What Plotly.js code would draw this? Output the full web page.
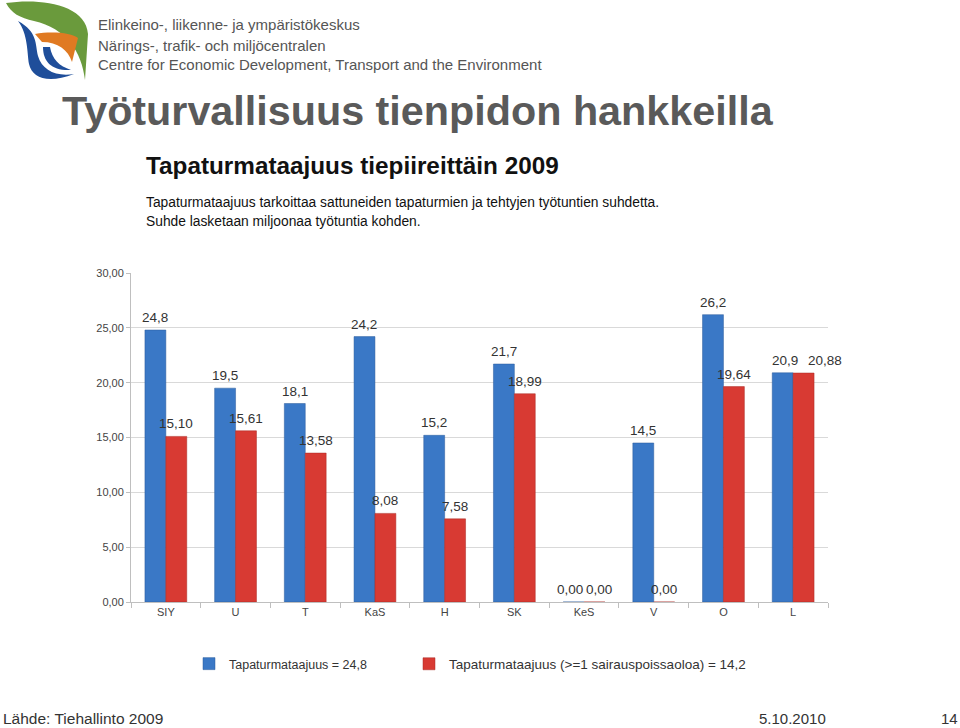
<!DOCTYPE html>
<html>
<head>
<meta charset="utf-8">
<script src="https://cdn.plot.ly/plotly-3.0.1.min.js"></script>
<style>html,body{margin:0;padding:0;background:#fff;}#chart{width:960px;height:728px;}</style>
</head>
<body>
<div id="chart"></div>
<script>
const categories = ["SIY","U","T","KaS","H","SK","KeS","V","O","L"];
const seriesAll = [24.8,19.5,18.1,24.2,15.2,21.7,0,14.5,26.2,20.9];
const seriesSick = [15.10,15.61,13.58,8.08,7.58,18.99,0,0,19.64,20.88];
const nameAll = "Tapaturmataajuus = 24,8";
const nameSick = "Tapaturmataajuus (>=1 sairauspoissaoloa) = 14,2";
const yTicks = [0,5,10,15,20,25,30];

const fmt = (v,d) => v.toFixed(d).replace('.', ',');

const logoSvg = '<svg xmlns="http://www.w3.org/2000/svg" width="90" height="85" viewBox="0 0 90 85">' +
 '<path d="M4,3 C38,-2 84,4 86,34 L83,80 C80,52 64,28 32,21 C18,18 9,13 4,3 Z" fill="#6a9a3c"/>' +
 '<path d="M16,21 C26,34 25,52 27,64 C30,78 46,84 72,74 C54,77 40,70 36,56 C33,44 36,32 16,21 Z" fill="#1f4e9a"/>' +
 '<path d="M33,34 C50,31 70,33 76,38 L70,62 C66,50 56,42 40,42 Z" fill="#e07a22"/>' +
 '<path d="M41,47 C41,62 50,71 69,70 C57,66 50,59 48,47 Z" fill="#1f4e9a"/>' +
 '</svg>';

const L = 131, R = 828, T = 273, B = 602;
const px = x => (x - L) / (R - L);
const py = y => (B - y) / (B - T);

const traces = [
  {type:'bar', name:nameAll, x:categories, y:seriesAll, legend:'legend',
   marker:{color:'#3a78c6', line:{color:'#2a5a9a', width:0.5}}},
  {type:'bar', name:nameSick, x:categories, y:seriesSick, legend:'legend2',
   marker:{color:'#d83a33', line:{color:'#a82a25', width:0.5}}}
];

// data labels, placed through the data axes above each bar
const labelFont = {family:'Liberation Sans, Arial, sans-serif', size:13.5, color:'#333'};
const groupShift = 10.5; // half of one bar width in px (bargap 0.4, two bars)
const extraAll  = {KeS:-4, L:2};
const extraSick = {KeS:4, L:21};
const annotations = [];
categories.forEach((c,i) => {
  annotations.push({x:c, y:seriesAll[i], xref:'x', yref:'y', text: seriesAll[i] === 0 ? fmt(seriesAll[i],2) : fmt(seriesAll[i],1),
    xshift:-groupShift + (extraAll[c]||0), yshift:3, yanchor:'bottom', xanchor:'center', showarrow:false, font:labelFont});
  annotations.push({x:c, y:seriesSick[i], xref:'x', yref:'y', text: fmt(seriesSick[i],2),
    xshift:groupShift + (extraSick[c]||0), yshift:3, yanchor:'bottom', xanchor:'center', showarrow:false, font:labelFont});
});

const hdrFont = {family:'Liberation Sans, Arial, sans-serif', size:15, color:'#555'};
[
  {text:'Elinkeino-, liikenne- ja ympäristökeskus', x:px(96), y:py(24)},
  {text:'Närings-, trafik- och miljöcentralen', x:px(96), y:py(45)},
  {text:'Centre for Economic Development, Transport and the Environment', x:px(96), y:py(65)}
].forEach(a => annotations.push(Object.assign(a, {xref:'paper', yref:'paper', xanchor:'left', yanchor:'middle', showarrow:false, font:hdrFont})));

annotations.push(
  {text:'<b>Työturvallisuus tienpidon hankkeilla</b>', x:px(60), y:py(111), xref:'paper', yref:'paper', xanchor:'left', yanchor:'middle', showarrow:false,
   font:{family:'Liberation Sans, Arial, sans-serif', size:41.3, color:'#5a5a5a'}},
  {text:'<b>Tapaturmataajuus tiepiireittäin 2009</b>', x:px(144), y:py(165), xref:'paper', yref:'paper', xanchor:'left', yanchor:'middle', showarrow:false,
   font:{family:'Liberation Sans, Arial, sans-serif', size:24.3, color:'#111'}},
  {text:'Tapaturmataajuus tarkoittaa sattuneiden tapaturmien ja tehtyjen työtuntien suhdetta.', x:px(144), y:py(203), xref:'paper', yref:'paper', xanchor:'left', yanchor:'middle', showarrow:false,
   font:{family:'Liberation Sans, Arial, sans-serif', size:13.8, color:'#111'}},
  {text:'Suhde lasketaan miljoonaa työtuntia kohden.', x:px(144), y:py(221), xref:'paper', yref:'paper', xanchor:'left', yanchor:'middle', showarrow:false,
   font:{family:'Liberation Sans, Arial, sans-serif', size:13.8, color:'#111'}},
  {text:'Lähde: Tiehallinto 2009', x:px(1), y:py(718), xref:'paper', yref:'paper', xanchor:'left', yanchor:'middle', showarrow:false,
   font:{family:'Liberation Sans, Arial, sans-serif', size:15.5, color:'#333'}},
  {text:'5.10.2010', x:px(828), y:py(718), xref:'paper', yref:'paper', xanchor:'right', yanchor:'middle', showarrow:false,
   font:{family:'Liberation Sans, Arial, sans-serif', size:15, color:'#333'}},
  {text:'14', x:px(960), y:py(718), xref:'paper', yref:'paper', xanchor:'right', yanchor:'middle', showarrow:false,
   font:{family:'Liberation Sans, Arial, sans-serif', size:15, color:'#333'}}
);

const layout = {
  width:960, height:728,
  margin:{l:L, r:960-R, t:T, b:728-B, pad:0},
  paper_bgcolor:'#ffffff', plot_bgcolor:'#ffffff',
  separators:', ',
  barmode:'group', bargap:0.4, bargroupgap:0,
  showlegend:true,
  legend:{orientation:'h', x:px(189), xanchor:'left', y:py(664), yanchor:'middle',
    font:{family:'Liberation Sans, Arial, sans-serif', size:12.5, color:'#333'}, itemwidth:30, bgcolor:'rgba(0,0,0,0)'},
  legend2:{orientation:'h', x:px(409), xanchor:'left', y:py(664), yanchor:'middle',
    font:{family:'Liberation Sans, Arial, sans-serif', size:13.5, color:'#333'}, itemwidth:30, bgcolor:'rgba(0,0,0,0)'},
  xaxis:{type:'category', range:[-0.5, categories.length - 0.5], autorange:false,
    showline:true, linecolor:'#bfbfbf', ticks:'outside', tickson:'boundaries',
    ticklen:5, tickcolor:'#bfbfbf', showgrid:false,
    tickfont:{family:'Liberation Sans, Arial, sans-serif', size:11, color:'#444'}},
  yaxis:{range:[0,30], autorange:false, tickvals:yTicks, tickformat:'.2f', showline:true, linecolor:'#bfbfbf',
    ticks:'outside', ticklen:4, tickcolor:'#bfbfbf', gridcolor:'#d9d9d9', zeroline:false,
    tickfont:{family:'Liberation Sans, Arial, sans-serif', size:11, color:'#444'}},
  annotations: annotations,
  images:[{source:'data:image/svg+xml;charset=utf-8,' + encodeURIComponent(logoSvg),
    xref:'paper', yref:'paper', x:px(2), y:py(0), sizex:90/(R-L), sizey:85/(B-T),
    xanchor:'left', yanchor:'top', sizing:'stretch', layer:'above'}]
};

Plotly.newPlot('chart', traces, layout, {displayModeBar:false, staticPlot:true});
</script>
</body>
</html>
